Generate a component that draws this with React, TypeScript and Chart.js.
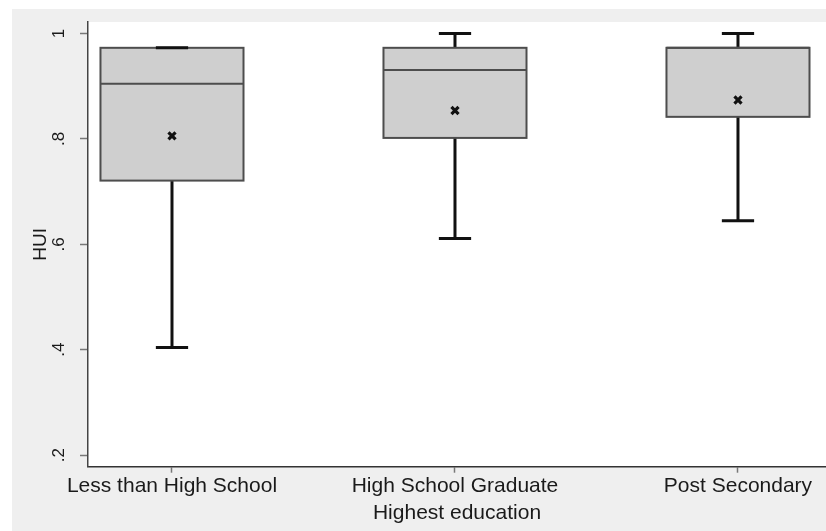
import { useEffect, useRef } from 'react';
import { Chart, registerables } from 'chart.js';

Chart.register(...registerables);

// Education groups and HUI box-plot statistics
const categories = ['Less than High School', 'High School Graduate', 'Post Secondary'];
const lowerWhisker = [0.404, 0.611, 0.645];
const q1 = [0.721, 0.802, 0.842];
const median = [0.905, 0.931, 0.973];
const q3 = [0.973, 0.973, 0.973];
const upperWhisker = [0.973, 1.0, 1.0];
const means = [0.806, 0.854, 0.874];
const yTicks = [0.2, 0.4, 0.6, 0.8, 1];

const FONT = '"Liberation Sans", Arial, Helvetica, sans-serif';
const BOX_HALF = 0.2527; // half box width, in category units
const CAP_HALF = 0.057; // half whisker-cap width, in category units

const formatTick = (v: number) => (v === 1 ? '1' : v.toFixed(1).replace(/^0/, ''));

const backgroundPlugin = {
  id: 'stataBackground',
  beforeDraw(chart: any) {
    const { ctx, chartArea } = chart;
    ctx.save();
    ctx.fillStyle = '#efefef';
    ctx.fillRect(0, 0, chart.width, chart.height);
    ctx.fillStyle = '#ffffff';
    ctx.fillRect(chartArea.left, chartArea.top, chartArea.right - chartArea.left, chartArea.bottom - chartArea.top);
    ctx.restore();
  },
};

const boxPlotPlugin = {
  id: 'boxPlot',
  beforeDatasetsDraw(chart: any) {
    const { ctx } = chart;
    const xs = chart.scales.x;
    const ys = chart.scales.y;
    ctx.save();
    categories.forEach((_, i) => {
      const pos = i + 1;
      const cx = xs.getPixelForValue(pos);
      const left = xs.getPixelForValue(pos - BOX_HALF);
      const right = xs.getPixelForValue(pos + BOX_HALF);
      const capL = xs.getPixelForValue(pos - CAP_HALF);
      const capR = xs.getPixelForValue(pos + CAP_HALF);
      const yLo = ys.getPixelForValue(lowerWhisker[i]);
      const yQ1 = ys.getPixelForValue(q1[i]);
      const yMed = ys.getPixelForValue(median[i]);
      const yQ3 = ys.getPixelForValue(q3[i]);
      const yHi = ys.getPixelForValue(upperWhisker[i]);

      // whisker stems
      ctx.strokeStyle = '#111111';
      ctx.lineWidth = 3;
      ctx.beginPath();
      ctx.moveTo(cx, yQ1);
      ctx.lineTo(cx, yLo);
      ctx.moveTo(cx, yQ3);
      ctx.lineTo(cx, yHi);
      ctx.stroke();

      // interquartile box
      ctx.fillStyle = '#cfcfcf';
      ctx.fillRect(left, yQ3, right - left, yQ1 - yQ3);
      ctx.strokeStyle = '#4d4d4d';
      ctx.lineWidth = 2;
      ctx.strokeRect(left, yQ3, right - left, yQ1 - yQ3);

      // median
      ctx.beginPath();
      ctx.moveTo(left, yMed);
      ctx.lineTo(right, yMed);
      ctx.stroke();

      // whisker caps
      ctx.strokeStyle = '#111111';
      ctx.lineWidth = 3;
      ctx.beginPath();
      ctx.moveTo(capL, yLo);
      ctx.lineTo(capR, yLo);
      ctx.moveTo(capL, yHi);
      ctx.lineTo(capR, yHi);
      ctx.stroke();
    });
    ctx.restore();
  },
};

export default function App() {
  const canvasRef = useRef<HTMLCanvasElement | null>(null);

  useEffect(() => {
    if (!canvasRef.current) return;
    const chart = new Chart(canvasRef.current, {
      type: 'scatter',
      data: {
        datasets: [
          {
            label: 'Mean',
            data: categories.map((_, i) => ({ x: i + 1, y: means[i] })),
            pointStyle: 'crossRot',
            pointRadius: 5,
            pointBorderWidth: 3.2,
            borderColor: '#111111',
            backgroundColor: '#111111',
            showLine: false,
          },
        ],
      },
      options: {
        responsive: false,
        animation: false,
        layout: { autoPadding: false, padding: { top: 13, left: 0, right: 0, bottom: 0 } },
        plugins: {
          legend: { display: false },
          tooltip: { enabled: false },
        },
        scales: {
          x: {
            type: 'linear',
            min: 0.7032,
            max: 3.311,
            bounds: 'data',
            afterBuildTicks: (s: any) => {
              s.ticks = categories.map((_, i) => ({ value: i + 1 }));
            },
            afterFit: (s: any) => {
              s.height = 64.3;
              s.paddingLeft = 0;
              s.paddingRight = 0;
            },
            ticks: {
              autoSkip: false,
              maxRotation: 0,
              minRotation: 0,
              padding: 1,
              color: '#1a1a1a',
              font: { family: FONT, size: 21 },
              callback: (v: any) => categories[Math.round(Number(v)) - 1] ?? '',
            },
            grid: {
              drawOnChartArea: false,
              drawTicks: true,
              tickLength: 6,
              tickColor: '#777777',
              tickWidth: 1.5,
            },
            border: { display: true, color: '#333333', width: 1.5 },
            title: {
              display: true,
              text: 'Highest education',
              color: '#1a1a1a',
              font: { family: FONT, size: 21 },
              padding: { top: 0, bottom: 5 },
            },
          },
          y: {
            type: 'linear',
            min: 0.178,
            max: 1.022,
            bounds: 'data',
            afterBuildTicks: (s: any) => {
              s.ticks = yTicks.map((v) => ({ value: v }));
            },
            afterFit: (s: any) => {
              s.width = 76;
              s.paddingTop = 0;
              s.paddingBottom = 0;
            },
            ticks: {
              minRotation: 90,
              maxRotation: 90,
              crossAlign: 'center',
              padding: 14,
              color: '#1a1a1a',
              font: { family: FONT, size: 17 },
              callback: (v: any) => formatTick(Number(v)),
            },
            grid: {
              drawOnChartArea: false,
              drawTicks: true,
              tickLength: 8,
              tickColor: '#777777',
              tickWidth: 1.5,
            },
            border: { display: true, color: '#444444', width: 1.5 },
            title: {
              display: true,
              text: 'HUI',
              color: '#1a1a1a',
              font: { family: FONT, size: 19 },
              padding: { top: 17, bottom: 0 },
            },
          },
        },
      },
      plugins: [backgroundPlugin, boxPlotPlugin],
    } as any);
    return () => chart.destroy();
  }, []);

  return (
    <div
      style={{
        position: 'absolute',
        left: 12,
        top: 9,
        width: 814,
        height: 522,
        background: '#efefef',
        overflow: 'hidden',
      }}
    >
      <canvas ref={canvasRef} width={814} height={522} style={{ display: 'block' }} />
    </div>
  );
}
